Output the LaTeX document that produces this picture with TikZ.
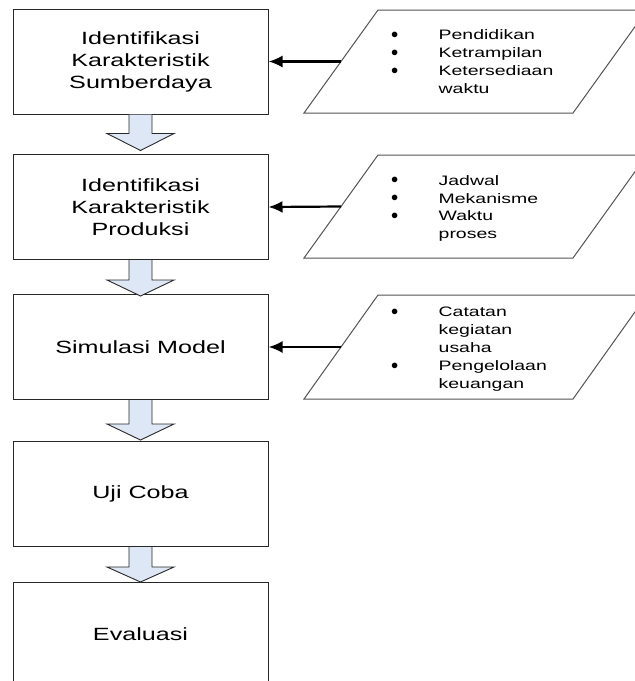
\documentclass[tikz,border=0pt]{standalone}
\usepackage{fontspec}
\setmainfont[FakeStretch=1.42]{Liberation Sans}
\usetikzlibrary{arrows.meta}
\definecolor{arrowfill}{RGB}{222,231,246}
\definecolor{lineclr}{RGB}{40,40,40}
\newcommand\flowdown[3]{%
  \draw[blockarrow] ([xshift=-11.5pt]#1.south) -- ++(0,#2) -- ++(-22,0)
    -- ++(33.5,#3) -- ++(33.5,-#3) -- ++(-22,0) -- ++(0,-#2);}
\newcommand\itemline[1]{\makebox[47.5pt][l]{\raisebox{1.3pt}{$\bullet$}}#1}
\newcommand\contline[1]{\hspace*{47.5pt}#1}
\begin{document}
\begin{tikzpicture}[x=1pt,y=-1pt,
  procbox/.style={draw=lineclr, line width=1pt, minimum width=255pt,
    minimum height=105pt, inner sep=0pt, align=center,
    font=\fontsize{17.7}{22}\selectfont},
  datapg/.style={draw=lineclr!80, line width=1pt},
  blockarrow/.style={draw=lineclr, fill=arrowfill, line width=0.9pt},
  feed/.style={draw=black, line width=2.2pt, -{Latex[length=14pt,width=12pt]}},
  listtext/.style={anchor=north west, align=left, inner sep=0pt,
    font=\fontsize{13.7}{17.9}\selectfont}]
\useasboundingbox (0,0) rectangle (635,681);
\clip (0,0) rectangle (635,681);

% process boxes
\node[procbox] (b1) at (140.5,61.5) {Identifikasi\\Karakteristik\\Sumberdaya};
\node[procbox] (b2) at (140.5,207) {Identifikasi\\Karakteristik\\Produksi};
\node[procbox] (b3) at (140.5,347) {Simulasi Model};
\node[procbox] (b4) at (140.5,494) {Uji Coba};
\node[procbox] (b5) at (140.5,634.5) {Evaluasi};

% block arrows between boxes
\flowdown{b1}{19}{17}
\flowdown{b2}{20}{16}
\flowdown{b3}{24}{16}
\flowdown{b4}{20}{15}

% input parallelograms
\draw[datapg] (304,113) -- (378,10) -- (647,10) -- (573,113) -- cycle;
\coordinate (in1) at (341,61.5);
\draw[datapg] (304,258) -- (378,155) -- (647,155) -- (573,258) -- cycle;
\coordinate (in2) at (341,206.5);
\draw[datapg] (304,399) -- (378,295) -- (647,295) -- (573,399) -- cycle;
\coordinate (in3) at (341,347);

\node[listtext] (t1) at (391,29.7) {\itemline{Pendidikan}\\\itemline{Ketrampilan}\\\itemline{Ketersediaan}\\\contline{waktu}};
\node[listtext] (t2) at (391,175) {\itemline{Jadwal}\\\itemline{Mekanisme}\\\itemline{Waktu}\\\contline{proses}};
\node[listtext] (t3) at (391,307) {\itemline{Catatan}\\\contline{kegiatan}\\\contline{usaha}\\\itemline{Pengelolaan}\\\contline{keuangan}};

% connectors
\draw[feed] (in1) -- (b1.east);
\draw[feed] (in2) -- (b2.east);
\draw[feed] (in3) -- (b3.east);
\end{tikzpicture}
\end{document}
